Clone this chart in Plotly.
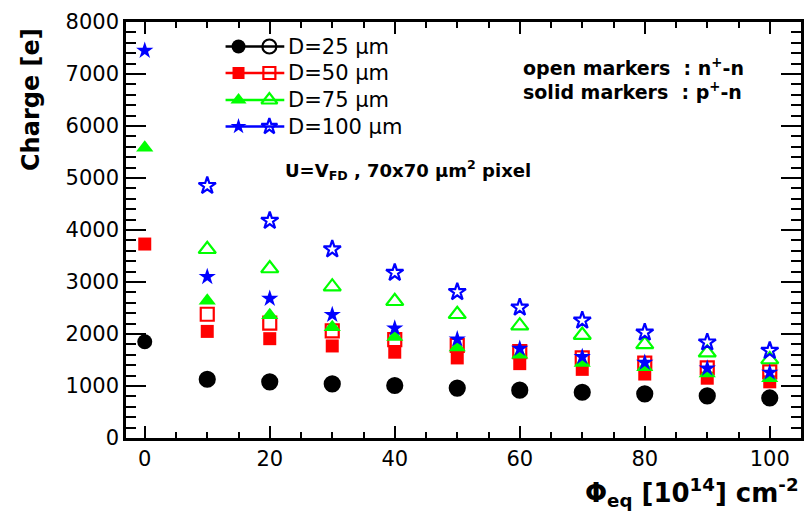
import plotly.graph_objects as go

# Fluence points [10^14 n_eq / cm^2]
fluence_solid = [0, 10, 20, 30, 40, 50, 60, 70, 80, 90, 100]
fluence_open = [10, 20, 30, 40, 50, 60, 70, 80, 90, 100]

# Collected charge [e] for p+-n sensors (solid markers)
q25_solid = [1850, 1130, 1080, 1040, 1010, 960, 920, 880, 850, 810, 770]
q50_solid = [3730, 2050, 1910, 1770, 1650, 1540, 1430, 1320, 1230, 1150, 1080]
q75_solid = [5580, 2640, 2360, 2130, 1940, 1740, 1600, 1440, 1360, 1240, 1150]
q100_solid = [7450, 3100, 2680, 2370, 2110, 1900, 1720, 1560, 1450, 1340, 1260]

# Collected charge [e] for n+-n sensors (open markers)
q25_open = [1130, 1080, 1040, 1010, 960, 920, 880, 850, 810, 770]
q50_open = [2380, 2210, 2060, 1890, 1780, 1660, 1540, 1440, 1350, 1270]
q75_open = [3630, 3260, 2910, 2630, 2380, 2160, 1980, 1800, 1640, 1510]
q100_open = [4850, 4180, 3630, 3180, 2810, 2510, 2260, 2030, 1840, 1680]

labels = ["D=25 \u00b5m", "D=50 \u00b5m", "D=75 \u00b5m", "D=100 \u00b5m"]
colors = ["#000000", "#ff0000", "#00ff00", "#0000ff"]
symbols = ["circle", "square", "triangle-up", "star"]
sizes = [15, 13, 15, 13]
solid_sets = [q25_solid, q50_solid, q75_solid, q100_solid]
open_sets = [q25_open, q50_open, q75_open, q100_open]

FONT = "DejaVu Sans"

fig = go.Figure()

for lab, col, sym, sz, qs, qo in zip(labels, colors, symbols, sizes, solid_sets, open_sets):
    fig.add_trace(go.Scatter(
        x=fluence_open, y=qo, mode="markers", name=lab + " n+-n",
        marker=dict(symbol=sym + "-open", size=sz, color=col, line=dict(width=2.2, color=col)),
        showlegend=False, xaxis="x", yaxis="y"))
    fig.add_trace(go.Scatter(
        x=fluence_solid, y=qs, mode="markers", name=lab + " p+-n",
        marker=dict(symbol=sym, size=sz, color=col, line=dict(width=0)),
        showlegend=False, xaxis="x", yaxis="y"))

# Legend keys drawn on an overlay axis in plot-fraction units
row_y = [0.9411, 0.8774, 0.8125, 0.7488]
x_line = [0.1475, 0.2345]
x_solid = 0.1667
x_open = 0.2124
x_text = 0.2375
for lab, col, sym, sz, ry in zip(labels, colors, symbols, sizes, row_y):
    fig.add_trace(go.Scatter(x=x_line, y=[ry, ry], mode="lines",
                             line=dict(color=col, width=2.5), showlegend=False,
                             hoverinfo="skip", xaxis="x2", yaxis="y2"))
    fig.add_trace(go.Scatter(x=[x_solid], y=[ry], mode="markers",
                             marker=dict(symbol=sym, size=sz - 1, color=col),
                             showlegend=False, hoverinfo="skip", xaxis="x2", yaxis="y2"))
    fig.add_trace(go.Scatter(x=[x_open], y=[ry], mode="markers",
                             marker=dict(symbol=sym + "-open", size=sz - 1, color=col,
                                         line=dict(width=2.2, color=col)),
                             showlegend=False, hoverinfo="skip", xaxis="x2", yaxis="y2"))
    fig.add_annotation(x=x_text, y=ry, xref="x2", yref="y2", text=lab, showarrow=False,
                       xanchor="left", yanchor="middle",
                       font=dict(family=FONT, size=21, color="black"))

axis_common = dict(showline=True, linecolor="black", linewidth=2.5, mirror="ticks",
                   ticks="inside", tickcolor="black", tickwidth=2, showgrid=False,
                   zeroline=False,
                   tickfont=dict(family=FONT, size=21, color="black"))

fig.update_layout(
    width=805, height=514,
    margin=dict(l=126, r=1, t=22, b=76),
    paper_bgcolor="white", plot_bgcolor="white",
    xaxis=dict(range=[-3, 105], tickvals=[0, 20, 40, 60, 80, 100], ticklen=12,
               minor=dict(dtick=5, tick0=0, ticklen=6, ticks="inside", tickcolor="black",
                          tickwidth=2),
               **axis_common),
    yaxis=dict(range=[0, 8000], dtick=1000, ticklen=20,
               minor=dict(dtick=200, ticklen=10, ticks="inside", tickcolor="black",
                          tickwidth=2),
               **axis_common),
    xaxis2=dict(range=[0, 1], overlaying="x", visible=False, fixedrange=True),
    yaxis2=dict(range=[0, 1], overlaying="y", visible=False, fixedrange=True),
)

fig.add_annotation(xref="paper", yref="paper", x=-0.14, y=(438 - 26) / 416,
                   text="<b>Charge [e]</b>", textangle=-90, showarrow=False,
                   xanchor="center", yanchor="top",
                   font=dict(family=FONT, size=24, color="black"))

fig.add_annotation(xref="paper", yref="paper", x=1.0, y=(438 - 492) / 416,
                   text="<b>\u03a6<sub>eq</sub> [10<sup>14</sup>] cm<sup>-2</sup></b>",
                   showarrow=False, xanchor="right", yanchor="middle",
                   font=dict(family=FONT, size=26, color="black"))

fig.add_annotation(xref="paper", yref="paper", x=(523 - 126) / 678, y=(438 - 67) / 416,
                   text="<b>open markers  : n<sup>+</sup>-n</b>", showarrow=False,
                   xanchor="left", yanchor="middle",
                   font=dict(family=FONT, size=19, color="black"))
fig.add_annotation(xref="paper", yref="paper", x=(523 - 126) / 678, y=(438 - 91) / 416,
                   text="<b>solid markers  : p<sup>+</sup>-n</b>", showarrow=False,
                   xanchor="left", yanchor="middle",
                   font=dict(family=FONT, size=19, color="black"))
fig.add_annotation(xref="paper", yref="paper", x=(284 - 126) / 678, y=(438 - 170) / 416,
                   text="<b>U=V<sub>FD</sub> , 70x70 \u00b5m<sup>2</sup> pixel</b>",
                   showarrow=False, xanchor="left", yanchor="middle",
                   font=dict(family=FONT, size=18, color="black"))

fig.write_html("out.html")
